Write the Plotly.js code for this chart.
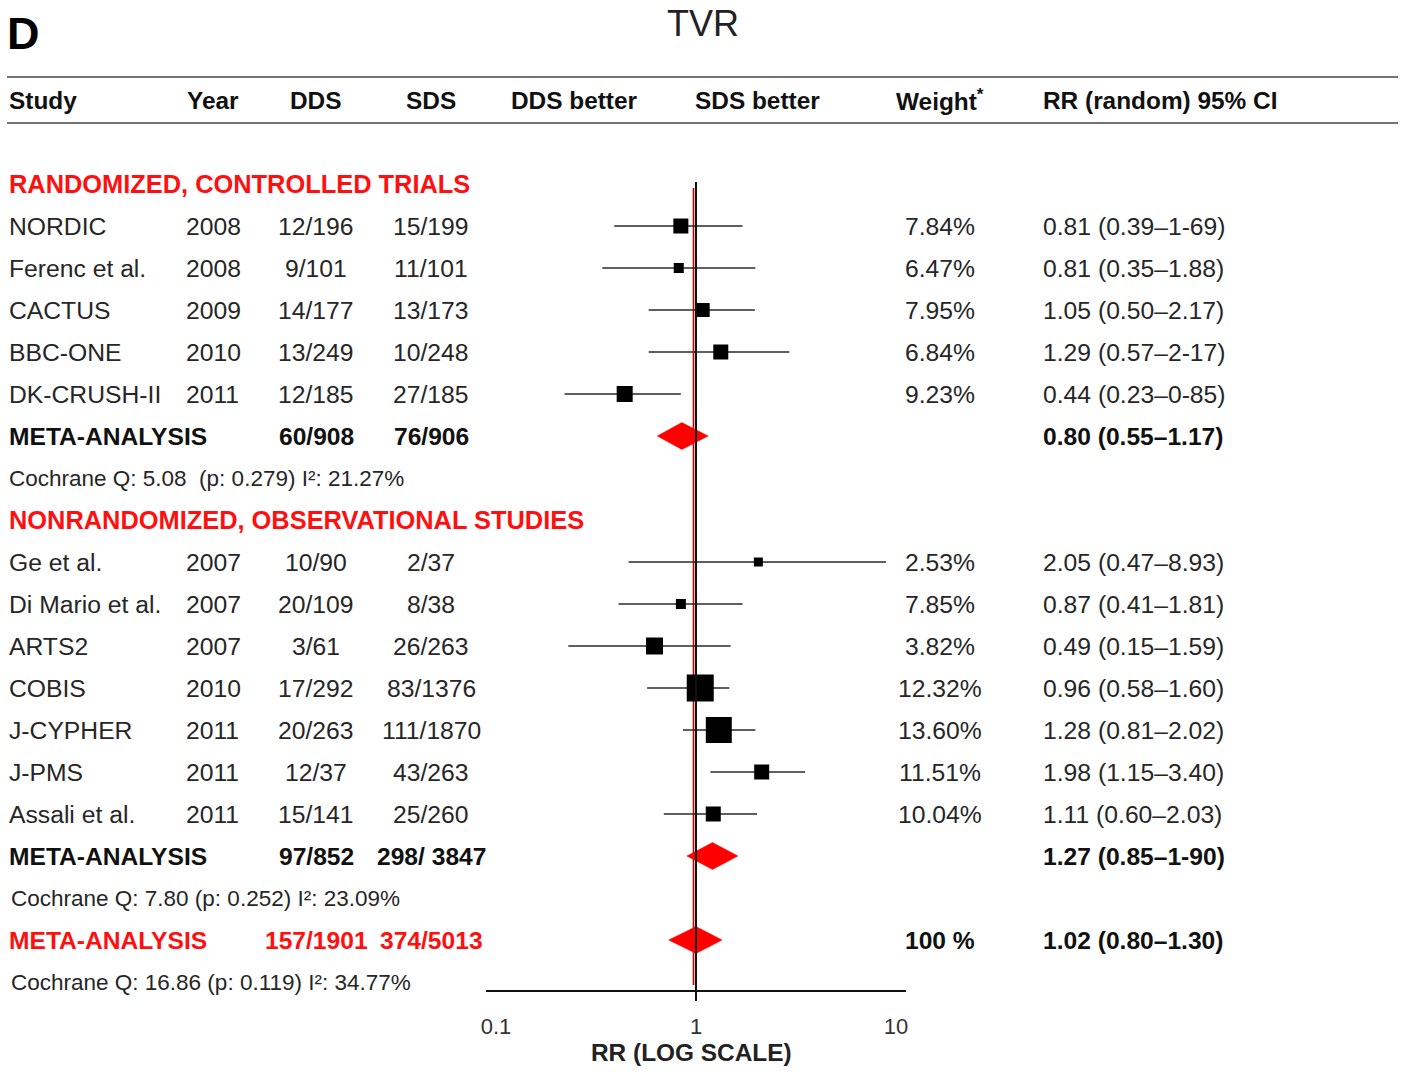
<!DOCTYPE html>
<html><head><meta charset="utf-8">
<script src="https://cdn.plot.ly/plotly-3.0.1.min.js"></script>
<style>html,body{margin:0;padding:0;background:#fff}</style>
</head><body><div id="chart" style="width:1406px;height:1074px"></div>
<script>
// ---------------- DATA ----------------
const panelLetter = "D";
const chartTitle = "TVR";
const headers = ["Study", "Year", "DDS", "SDS", "DDS better", "SDS better", "Weight<sup>*</sup>", "RR (random) 95% CI"];
const sectionTitles = ["RANDOMIZED, CONTROLLED TRIALS", "NONRANDOMIZED, OBSERVATIONAL STUDIES"];

const rctStudies = ["NORDIC", "Ferenc et al.", "CACTUS", "BBC-ONE", "DK-CRUSH-II"];
const rctYears = ["2008", "2008", "2009", "2010", "2011"];
const rctDDS = ["12/196", "9/101", "14/177", "13/249", "12/185"];
const rctSDS = ["15/199", "11/101", "13/173", "10/248", "27/185"];
const rctWeights = ["7.84%", "6.47%", "7.95%", "6.84%", "9.23%"];
const rctRR = [0.84, 0.82, 1.08, 1.33, 0.44];
const rctLow = [0.39, 0.34, 0.58, 0.58, 0.22];
const rctHigh = [1.71, 1.98, 1.97, 2.93, 0.84];
const rctLabels = ["0.81 (0.39\u20131-69)", "0.81 (0.35\u20131.88)", "1.05 (0.50\u20132.17)", "1.29 (0.57\u20132-17)", "0.44 (0.23\u20130-85)"];

const obsStudies = ["Ge et al.", "Di Mario et al.", "ARTS2", "COBIS", "J-CYPHER", "J-PMS", "Assali et al."];
const obsYears = ["2007", "2007", "2007", "2010", "2011", "2011", "2011"];
const obsDDS = ["10/90", "20/109", "3/61", "17/292", "20/263", "12/37", "15/141"];
const obsSDS = ["2/37", "8/38", "26/263", "83/1376", "111/1870", "43/263", "25/260"];
const obsWeights = ["2.53%", "7.85%", "3.82%", "12.32%", "13.60%", "11.51%", "10.04%"];
const obsRR = [2.05, 0.84, 0.62, 1.05, 1.30, 2.13, 1.22];
const obsLow = [0.46, 0.41, 0.23, 0.57, 0.86, 1.18, 0.69];
const obsHigh = [8.91, 1.71, 1.49, 1.47, 1.98, 3.51, 2.02];
const obsLabels = ["2.05 (0.47\u20138.93)", "0.87 (0.41\u20131.81)", "0.49 (0.15\u20131.59)", "0.96 (0.58\u20131.60)", "1.28 (0.81\u20132.02)", "1.98 (1.15\u20133.40)", "1.11 (0.60\u20132.03)"];

const metaNames = ["META-ANALYSIS", "META-ANALYSIS", "META-ANALYSIS"];
const metaDDS = ["60/908", "97/852", "157/1901"];
const metaSDS = ["76/906", "298/ 3847", "374/5013"];
const metaWeights = ["", "", "100 %"];
const metaRR = [0.85, 1.21, 1.00];
const metaLow = [0.64, 0.90, 0.73];
const metaHigh = [1.15, 1.62, 1.35];
const metaLabels = ["0.80 (0.55\u20131.17)", "1.27 (0.85\u20131-90)", "1.02 (0.80\u20131.30)"];
const heterogeneity = [
  "Cochrane Q: 5.08 \u00a0(p: 0.279) I\u00b2: 21.27%",
  "Cochrane Q: 7.80 (p: 0.252) I\u00b2: 23.09%",
  "Cochrane Q: 16.86 (p: 0.119) I\u00b2: 34.77%"
];
const xTickVals = [0.1, 1, 10];
const xTickText = ["0.1", "1", "10"];
const xAxisTitle = "RR (LOG SCALE)";

// ---------------- STYLE ----------------
const rctBox = [15, 10, 14, 15, 16];
const obsBox = [9, 10, 17, 27, 26, 15, 15];
const FONT = "Liberation Sans, Arial, Helvetica, sans-serif";
const RED = "#ff1010";
const TXT = "#262626";
const BODY = 24.7, BOLD = 24.6, SECTION = 25.4, SMALL = 22.5;
const W = 1406, H = 1074;
const ROW0 = 184, ROWH = 42;        // pixel of row 0 and row spacing
const PLOT_BOTTOM = 990;
const px = x => x / W;
const py = y => 1 - y / H;
const LPAD = 2; // annotation inner padding compensation
const col = {study: 9, year: 186, dds: 316, sds: 431, weight: 940, rr: 1043};

// rows
const rowRctHeader = 0;
const rctRows = rctStudies.map((_, i) => 1 + i);
const rowRctMeta = rctRows[rctRows.length - 1] + 1;
const rowRctHet = rowRctMeta + 1;
const rowObsHeader = rowRctHet + 1;
const obsRows = obsStudies.map((_, i) => rowObsHeader + 1 + i);
const rowObsMeta = obsRows[obsRows.length - 1] + 1;
const rowObsHet = rowObsMeta + 1;
const rowAllMeta = rowObsHet + 1;
const rowAllHet = rowAllMeta + 1;
const metaRows = [rowRctMeta, rowObsMeta, rowAllMeta];
const hetRows = [rowRctHet, rowObsHet, rowAllHet];

const ann = [];
function mk(text, x, yref, y, opts) {
  opts = opts || {};
  const anchor = opts.anchor || "left";
  ann.push({
    text: text, xref: "paper", x: px(anchor === "left" ? x - LPAD : x), yref: yref, y: y,
    xanchor: anchor, yanchor: "middle", showarrow: false,
    font: {family: FONT, size: opts.size || (opts.bold ? BOLD : BODY), color: opts.color || TXT, weight: opts.bold ? "bold" : "normal"}
  });
}
const t = (text, x, row, opts) => mk(text, x, "y", row, opts);
const tp = (text, x, y, opts) => mk(text, x, "paper", py(y), opts);

// title & panel letter
tp(panelLetter, 7, 33, {size: 45, bold: true, color: "#000"});
tp(chartTitle, 703, 24, {size: 36, anchor: "center", color: "#222"});
// header row
const hdrY = 100;
const H_OPTS = {bold: true, color: "#111", size: 24.4};
tp(headers[0], 9, hdrY, H_OPTS);
tp(headers[1], 187, hdrY, H_OPTS);
tp(headers[2], 316, hdrY, Object.assign({anchor: "center"}, H_OPTS));
tp(headers[3], 431, hdrY, Object.assign({anchor: "center"}, H_OPTS));
tp(headers[4], 574, hdrY, Object.assign({anchor: "center"}, H_OPTS));
tp(headers[5], 757, hdrY, Object.assign({anchor: "center"}, H_OPTS));
tp(headers[6], 940, hdrY, Object.assign({anchor: "center"}, H_OPTS));
tp(headers[7], 1043, hdrY, H_OPTS);

// sections
t(sectionTitles[0], 9, rowRctHeader, {bold: true, color: RED, size: SECTION});
t(sectionTitles[1], 9, rowObsHeader, {bold: true, color: RED, size: SECTION});

function studyRows(names, years, dds, sds, wts, labels, rows) {
  names.forEach((n, i) => {
    const r = rows[i];
    t(n, col.study, r);
    t(years[i], col.year, r);
    t(dds[i], col.dds, r, {anchor: "center"});
    t(sds[i], col.sds, r, {anchor: "center"});
    t(wts[i], col.weight, r, {anchor: "center"});
    t(labels[i], col.rr, r);
  });
}
studyRows(rctStudies, rctYears, rctDDS, rctSDS, rctWeights, rctLabels, rctRows);
studyRows(obsStudies, obsYears, obsDDS, obsSDS, obsWeights, obsLabels, obsRows);

metaRows.forEach((r, i) => {
  const c = i === 2 ? RED : "#111";
  t(metaNames[i], col.study, r, {bold: true, color: c});
  t(metaDDS[i], col.dds, r, {bold: true, color: c, anchor: "center"});
  t(metaSDS[i], col.sds, r, {bold: true, color: c, anchor: "center"});
  if (metaWeights[i]) t(metaWeights[i], col.weight, r, {bold: true, color: "#111", anchor: "center"});
  t(metaLabels[i], col.rr, r, {bold: true, color: "#111"});
});
hetRows.forEach((r, i) => t(heterogeneity[i], i === 0 ? 9 : 11, r, {size: SMALL}));

// axis title
tp(xAxisTitle, 691, 1052, {bold: true, color: "#222", anchor: "center", size: 24.4});

// traces
const traces = [];
function studyTrace(est, lo, hi, rows, box) {
  return {
    type: "scatter", mode: "markers", x: est, y: rows,
    marker: {symbol: "square", size: box, color: "#000", opacity: 1, line: {width: 0}},
    error_x: {type: "data", symmetric: false,
      array: hi.map((h, i) => h - est[i]), arrayminus: lo.map((l, i) => est[i] - l),
      width: 0, thickness: 1.7, color: "#2a2a2a"},
    hoverinfo: "skip", showlegend: false, cliponaxis: false
  };
}
traces.push(studyTrace(rctRR, rctLow, rctHigh, rctRows, rctBox));
traces.push(studyTrace(obsRR, obsLow, obsHigh, obsRows, obsBox));
const halfH = 0.32;
metaRows.forEach((r, i) => {
  traces.push({
    type: "scatter", mode: "lines",
    x: [metaLow[i], metaRR[i], metaHigh[i], metaRR[i], metaLow[i]],
    y: [r, r - halfH, r, r + halfH, r],
    fill: "toself", fillcolor: "#ff0000", line: {color: "#ff0000", width: 0.5},
    hoverinfo: "skip", showlegend: false
  });
});

const pxPerDecade = 200, center = 696;
const xRange = [(486 - center) / pxPerDecade, (906 - center) / pxPerDecade];
const yTop = (0 - ROW0) / ROWH, yBot = (PLOT_BOTTOM - ROW0) / ROWH;

const shapes = [
  {type: "line", xref: "paper", yref: "paper", x0: px(7), x1: px(1398), y0: py(77), y1: py(77), line: {color: "#444", width: 1.6}},
  {type: "line", xref: "paper", yref: "paper", x0: px(7), x1: px(1398), y0: py(123), y1: py(123), line: {color: "#444", width: 1.6}},
  {type: "line", xref: "x", yref: "paper", x0: Math.pow(10, -2.5 / pxPerDecade), x1: Math.pow(10, -2.5 / pxPerDecade), y0: py(188), y1: py(985), line: {color: "#c00000", width: 1.6}, layer: "below"},
  {type: "line", xref: "x", yref: "paper", x0: 1, x1: 1, y0: py(182), y1: py(1001), line: {color: "#111", width: 2}, layer: "above"}
];

const layout = {
  width: W, height: H, margin: {l: 0, r: 0, t: 0, b: 0},
  paper_bgcolor: "#fff", plot_bgcolor: "rgba(0,0,0,0)",
  showlegend: false,
  xaxis: {type: "log", domain: [px(486), px(906)], range: xRange,
    tickvals: xTickVals, ticktext: xTickText, ticks: "outside", ticklen: 16, tickcolor: "rgba(0,0,0,0)",
    tickfont: {family: FONT, size: 22, color: "#333"},
    showline: true, linecolor: "#111", linewidth: 2, showgrid: false, zeroline: false, fixedrange: true},
  yaxis: {domain: [py(PLOT_BOTTOM), 1], range: [yBot, yTop], visible: false, showgrid: false, zeroline: false, fixedrange: true},
  annotations: ann, shapes: shapes,
  font: {family: FONT}
};
Plotly.newPlot("chart", traces, layout, {displayModeBar: false, staticPlot: true});
</script></body></html>
